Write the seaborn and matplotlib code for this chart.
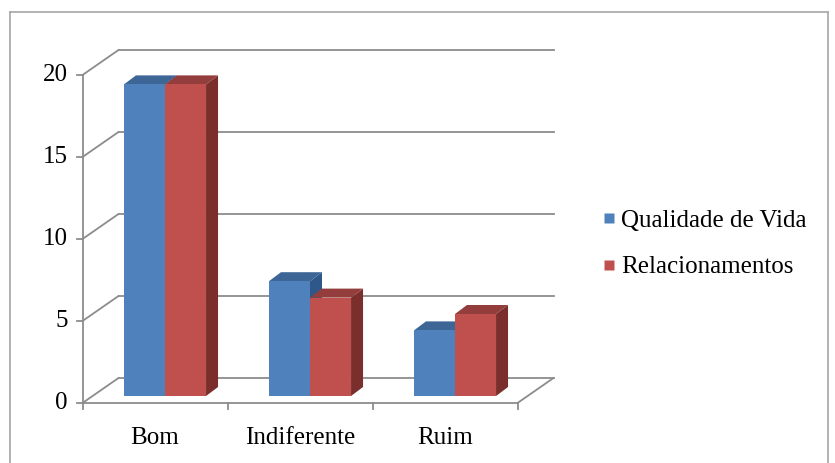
import pandas as pd
import seaborn as sns
import matplotlib.pyplot as plt
from matplotlib.patches import Polygon
from matplotlib.lines import Line2D

categories = ['Bom', 'Indiferente', 'Ruim']
series = ['Qualidade de Vida', 'Relacionamentos']
qualidade = [19, 7, 4]
relacionamentos = [19, 6, 5]
yticks = [0, 5, 10, 15, 20]

front_colors = ['#4F81BD', '#C0504D']
top_colors = ['#3D6696', '#933E3C']
side_colors = ['#30578A', '#7A2F2D']
grid_color = '#8C8C8C'

df = pd.DataFrame({
    'categoria': categories * 2,
    'serie': [series[0]] * 3 + [series[1]] * 3,
    'valor': qualidade + relacionamentos,
})

plt.rcParams['font.family'] = ['Liberation Serif', 'DejaVu Serif']
fs = 18

W, H = 835, 463
fig = plt.figure(figsize=(W / 100, H / 100), dpi=100)
# axes plane = plane of the bars' front faces
ax = fig.add_axes([92.5 / W, (H - 396) / H, 435 / W, 328 / H])
sns.barplot(data=df, x='categoria', y='valor', hue='serie', palette=front_colors,
            width=0.566, gap=0, saturation=1, ax=ax, legend=False, zorder=2)
ax.set_xlim(-0.5, 2.5)
ax.set_ylim(0, 20)
ax.axis('off')

inv = ax.transData.inverted()

def shift(x, y, dx, dy):
    # move a data point by (dx, dy) pixels on screen (dy positive = up)
    X, Y = ax.transData.transform((x, y))
    return inv.transform((X + dx, Y + dy))

front = (-10, -7)   # front wall plane relative to bar plane
back = (26, 18)     # back wall plane
depth = (12, 9)     # bar depth

lw = 1.3
# back wall gridlines and left wall lines
for v in yticks:
    b0 = shift(-0.5, v, *back)
    b1 = shift(2.5, v, *back)
    f0 = shift(-0.5, v, *front)
    ax.plot([b0[0], b1[0]], [b0[1], b1[1]], color=grid_color, lw=lw, clip_on=False, zorder=0)
    ax.plot([f0[0], b0[0]], [f0[1], b0[1]], color=grid_color, lw=lw, clip_on=False, zorder=0)
    t = shift(-0.5, v, front[0] - 6, front[1])
    ax.plot([t[0], f0[0]], [t[1], f0[1]], color=grid_color, lw=lw, clip_on=False, zorder=0)
    lab = shift(-0.5, v, front[0] - 15, front[1])
    ax.text(lab[0], lab[1], str(v), ha='right', va='center', fontsize=fs)

# front axis and floor
fa = shift(-0.5, 0, *front)
fb = shift(-0.5, 20, *front)
ax.plot([fa[0], fb[0]], [fa[1], fb[1]], color=grid_color, lw=lw, clip_on=False, zorder=0)
fr = shift(2.5, 0, *front)
br = shift(2.5, 0, *back)
ax.plot([fa[0], fr[0]], [fa[1], fr[1]], color=grid_color, lw=lw, clip_on=False, zorder=0)
ax.plot([fr[0], br[0]], [fr[1], br[1]], color=grid_color, lw=lw, clip_on=False, zorder=0)
for i in range(4):
    p = shift(i - 0.5, 0, *front)
    q = shift(i - 0.5, 0, front[0], front[1] - 6)
    ax.plot([p[0], q[0]], [p[1], q[1]], color=grid_color, lw=lw, clip_on=False, zorder=0)
for i, cat in enumerate(categories):
    p = shift(i, 0, front[0], front[1] - 35)
    ax.text(p[0], p[1], cat, ha='center', va='center', fontsize=fs)

# 3D faces for each bar
for k, patch in enumerate(ax.patches):
    s = k // len(categories)
    x0 = patch.get_x()
    x1 = x0 + patch.get_width()
    h = patch.get_height()
    top = [(x0, h), (x1, h), tuple(shift(x1, h, *depth)), tuple(shift(x0, h, *depth))]
    side = [(x1, 0), (x1, h), tuple(shift(x1, h, *depth)), tuple(shift(x1, 0, *depth))]
    ax.add_patch(Polygon(side, closed=True, facecolor=side_colors[s], edgecolor='none',
                         zorder=1, clip_on=False))
    ax.add_patch(Polygon(top, closed=True, facecolor=top_colors[s], edgecolor='none',
                         zorder=1, clip_on=False))

# legend
handles = [Line2D([], [], marker='s', linestyle='none', markersize=7.5,
                  markerfacecolor=c, markeredgecolor='none') for c in front_colors]
fig.legend(handles, series, loc='center left', bbox_to_anchor=(590 / W, 1 - 244 / H),
           frameon=False, fontsize=fs, handlelength=0.5, handletextpad=0.25,
           labelspacing=0.95, borderpad=0)

# chart area border
border = dict(color='#A6A6A6', lw=1.2, transform=fig.transFigure)
fig.add_artist(Line2D([10 / W, 10 / W], [0, 1 - 12 / H], **border))
fig.add_artist(Line2D([10 / W, 828 / W], [1 - 12 / H, 1 - 12 / H], **border))
fig.add_artist(Line2D([828 / W, 828 / W], [0, 1 - 12 / H], **border))

plt.savefig('out.png', dpi=100)
plt.close()
